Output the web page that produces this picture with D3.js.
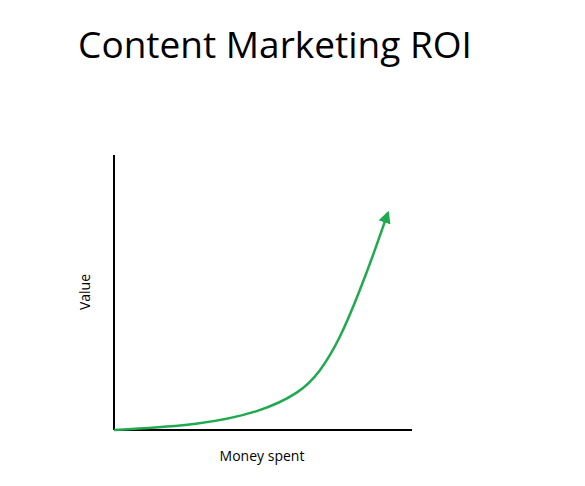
<!DOCTYPE html>
<html>
<head>
<meta charset="utf-8">
<script src="https://cdn.jsdelivr.net/npm/d3@7"></script>
<style>
  body { margin: 0; background: #fff; }
  text { font-family: "Open Sans", "Liberation Sans", sans-serif; }
</style>
</head>
<body>
<svg id="chart" width="585" height="486"></svg>
<script>
// Curve points (money spent vs value, 0-100 units)
const spent = [0, 29, 49, 62.4, 69.1, 75.8, 82.6, 87.6, 91.9];
const value = [0, 1.8, 6.5, 13.5, 21, 33, 50.9, 65.5, 78.9];
const title = "Content Marketing ROI";
const xLabel = "Money spent";
const yLabel = "Value";

const svg = d3.select("#chart");
const x = d3.scaleLinear().domain([0, 100]).range([114, 412]);
const y = d3.scaleLinear().domain([0, 100]).range([430, 155]);

svg.append("defs").append("marker")
  .attr("id", "arrow")
  .attr("viewBox", "0 0 10 10")
  .attr("refX", 8).attr("refY", 5)
  .attr("markerWidth", 5).attr("markerHeight", 5)
  .attr("orient", "auto")
  .append("path").attr("d", "M0,0 L10,5 L0,10 z").attr("fill", "#1faa4f");

svg.append("text")
  .attr("x", 275).attr("y", 58)
  .attr("text-anchor", "middle")
  .style("font-size", "37px")
  .text(title);

// axes (plain lines, no ticks)
svg.append("line")
  .attr("x1", x(0)).attr("x2", x(0)).attr("y1", y(100)).attr("y2", y(0))
  .attr("stroke", "#000").attr("stroke-width", 2);
svg.append("line")
  .attr("x1", x(0)).attr("x2", x(100)).attr("y1", y(0)).attr("y2", y(0))
  .attr("stroke", "#000").attr("stroke-width", 2);

const line = d3.line()
  .x((d, i) => x(spent[i]))
  .y((d) => y(d))
  .curve(d3.curveBasis);

svg.append("path")
  .attr("d", line(value))
  .attr("fill", "none")
  .attr("stroke", "#1faa4f")
  .attr("stroke-width", 2.5)
  .attr("marker-end", "url(#arrow)");

svg.append("text")
  .attr("x", 262).attr("y", 461)
  .attr("text-anchor", "middle")
  .style("font-size", "14px")
  .text(xLabel);

svg.append("text")
  .attr("transform", "translate(90,292) rotate(-90)")
  .attr("text-anchor", "middle")
  .style("font-size", "14px")
  .text(yLabel);
</script>
</body>
</html>
